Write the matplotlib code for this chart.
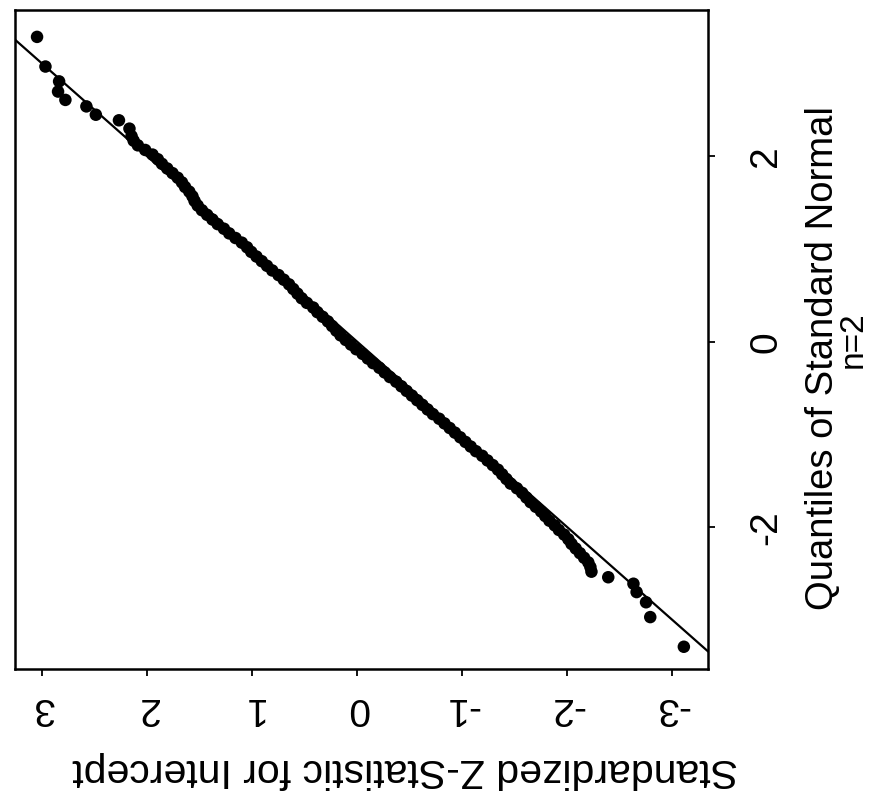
import matplotlib
matplotlib.use("Agg")
import matplotlib.pyplot as plt

plt.rcParams['font.family'] = ['Liberation Sans', 'DejaVu Sans']

# ---- data (sample z-statistic vs. normal quantile) ----
upper_tail_theo = [3.29, 2.97, 2.81, 2.70, 2.61, 2.54, 2.45, 2.39, 2.30]
upper_tail_z = [3.05, 2.97, 2.84, 2.85, 2.78, 2.58, 2.49, 2.27, 2.17]

lower_tail_theo = [-3.29, -2.97, -2.81, -2.70, -2.61, -2.54]
lower_tail_z = [-3.11, -2.79, -2.75, -2.66, -2.63, -2.39]

band_theo = [-2.48, -2.43, -2.38, -2.33, -2.28, -2.23, -2.18, -2.13, -2.08, -2.03,
             -1.98, -1.93, -1.88, -1.83, -1.78, -1.73, -1.68, -1.63, -1.58, -1.53,
             -1.48, -1.43, -1.38, -1.33, -1.28, -1.23, -1.18, -1.13, -1.08, -1.03,
             -0.98, -0.93, -0.88, -0.83, -0.78, -0.73, -0.68, -0.63, -0.58, -0.53,
             -0.48, -0.43, -0.38, -0.33, -0.28, -0.23, -0.18, -0.13, -0.08, -0.03,
             0.02, 0.07, 0.12, 0.17, 0.22, 0.27, 0.32, 0.37, 0.42, 0.47,
             0.52, 0.57, 0.62, 0.67, 0.72, 0.77, 0.82, 0.87, 0.92, 0.97,
             1.02, 1.07, 1.12, 1.17, 1.22, 1.27, 1.32, 1.37, 1.42, 1.47,
             1.52, 1.57, 1.62, 1.67, 1.72, 1.77, 1.82, 1.87, 1.92, 1.97,
             2.02, 2.07, 2.12, 2.17, 2.22]
band_z = [-2.23, -2.22, -2.20, -2.16, -2.12, -2.08, -2.04, -2.01, -1.97, -1.92,
          -1.88, -1.83, -1.79, -1.75, -1.70, -1.65, -1.61, -1.57, -1.52, -1.46,
          -1.42, -1.38, -1.34, -1.29, -1.24, -1.19, -1.13, -1.08, -1.03, -0.98,
          -0.93, -0.88, -0.83, -0.78, -0.72, -0.67, -0.62, -0.57, -0.52, -0.47,
          -0.42, -0.37, -0.31, -0.26, -0.21, -0.15, -0.10, -0.05, 0.01, 0.06,
          0.11, 0.16, 0.20, 0.24, 0.28, 0.33, 0.38, 0.42, 0.48, 0.53,
          0.57, 0.61, 0.65, 0.70, 0.75, 0.81, 0.86, 0.91, 0.96, 1.01,
          1.05, 1.10, 1.16, 1.22, 1.27, 1.33, 1.38, 1.43, 1.48, 1.52,
          1.55, 1.57, 1.60, 1.64, 1.67, 1.71, 1.76, 1.81, 1.86, 1.90,
          1.95, 2.02, 2.09, 2.13, 2.15]

ref_intercept = 0.0
ref_slope = 1.0

z_ticks = [3, 2, 1, 0, -1, -2, -3]
z_tick_labels = ["3", "2", "1", "0", "-1", "-2", "-3"]
q_ticks = [-2, 0, 2]
q_tick_labels = ["-2", "0", "2"]

z_label = "Standardized Z-Statistic for Intercept"
q_label = "Quantiles of Standard Normal"
sub_label = "n=2"

# ---- figure ----
W, H = 874, 797
fig = plt.figure(figsize=(W / 100, H / 100), dpi=100)
ax = fig.add_axes([15 / W, 128 / H, 693 / W, 659 / H])

theo_all = lower_tail_theo + band_theo + upper_tail_theo
z_all = lower_tail_z + band_z + upper_tail_z

ax.scatter(z_all, theo_all, s=9.0 ** 2, c='black', edgecolors='none', zorder=3)
ax.axline((0, ref_intercept), slope=ref_slope, color='black', lw=1.6, zorder=2)

ax.set_xlim(3.26, -3.34)
ax.set_ylim(-3.53, 3.58)

for sp in ax.spines.values():
    sp.set_linewidth(1.8)

fs = 28
ax.set_xticks(z_ticks)
ax.set_xticklabels(z_tick_labels, fontsize=fs, rotation=180)
ax.yaxis.tick_right()
ax.set_yticks(q_ticks)
ax.set_yticklabels(q_tick_labels, fontsize=fs, rotation=90)
for lbl in ax.get_yticklabels():
    lbl.set_va('center')
ax.tick_params(axis='x', direction='out', length=5, width=1.3, pad=10)
ax.tick_params(axis='y', direction='out', length=5, width=1.3, pad=24)

ax.set_xlabel(z_label, fontsize=29.5, rotation=180, ha='center', va='center')
ax.xaxis.set_label_coords((405 - 15) / 693, (669 - 770) / 659)
ax.yaxis.set_label_position('right')
ax.set_ylabel(q_label, fontsize=27.5, rotation=90, ha='center', va='center')
ax.yaxis.set_label_coords((823 - 15) / 693, (669 - 358) / 659)
ax.text((853 - 15) / 693, (669 - 340) / 659, sub_label, fontsize=24, rotation=90,
        ha='center', va='center', transform=ax.transAxes)

fig.savefig("out.png", dpi=100)
